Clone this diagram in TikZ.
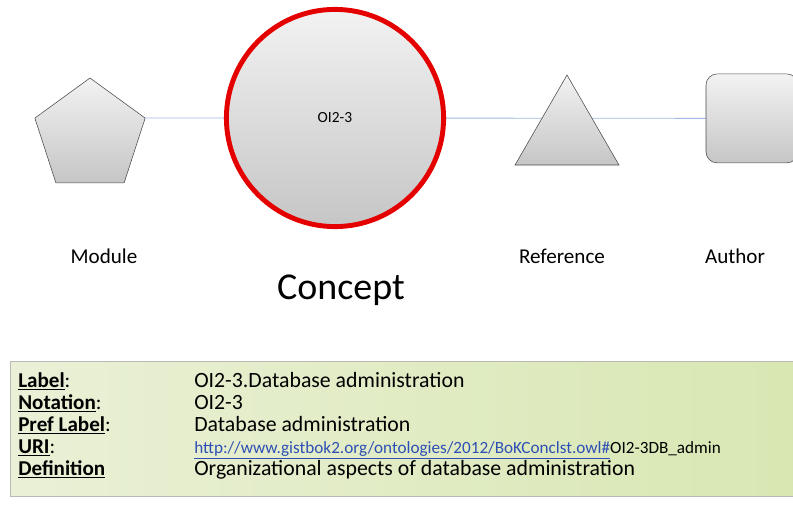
\documentclass[tikz,border=0pt]{standalone}
\usepackage{fontspec}
\setmainfont{Carlito}
\usetikzlibrary{shapes.geometric,backgrounds}

\definecolor{linkblue}{HTML}{2E4FB5}
\definecolor{edgeblue}{HTML}{9DB8E0}
\definecolor{boxleft}{HTML}{EAF0D6}
\definecolor{boxright}{HTML}{D8E7B2}

\begin{document}
\begin{tikzpicture}
\tikzstyle{entity} = [draw=gray!60!black, top color=gray!10, bottom color=gray!45, inner sep=0pt]
\tikzstyle{edge} = [draw=edgeblue, line width=0.6pt]
\tikzstyle{caption} = [font=\fontsize{15}{18}\selectfont]
\tikzstyle{key} = [anchor=base west, inner sep=0pt, font=\fontsize{15}{18}\selectfont]
\tikzstyle{value} = [anchor=base west, inner sep=0pt, font=\fontsize{15.5}{18}\selectfont]

\useasboundingbox (0,0) rectangle (19.825,12.6);
\clip (0,0) rectangle (19.825,12.6);

\node[entity, regular polygon, regular polygon sides=5, minimum size=2.9cm] (module) at (2.25,9.2) {};
\node[entity, circle, draw=red!90!black, line width=3.5pt, minimum size=5.43cm] (concept) at (8.375,9.65) {\fontsize{11}{13}\selectfont OI2-3};
\node[entity, regular polygon, regular polygon sides=3, minimum size=3cm] (reference) at (14.175,9.225) {};
\node[entity, rectangle, rounded corners=8pt, minimum width=2.3cm, minimum height=2.225cm] (author) at (18.8,9.64) {};

\begin{pgfonlayer}{background}
\draw[edge] (module.corner 5) -- (concept);
\draw[edge] (concept) -- (author);
\end{pgfonlayer}

\node[caption] (modulelabel) at (2.6,6.2) {Module};
\node[caption] (referencelabel) at (14.05,6.2) {Reference};
\node[caption] (authorlabel) at (18.375,6.2) {Author};
\node[font=\fontsize{27}{32}\selectfont] (conceptlabel) at (8.525,5.35) {Concept};

\node[draw=gray!55, left color=boxleft, right color=boxright, anchor=south west, minimum width=19.75cm, minimum height=3.375cm] (infobox) at (0.25,0.175) {};

\node[key] (labelkey) at (0.45,2.925) {\textbf{\underline{Label}}:};
\node[key] (notationkey) at (0.45,2.375) {\textbf{\underline{Notation}}:};
\node[key] (preflabelkey) at (0.45,1.825) {\textbf{\underline{Pref Label}}:};
\node[key] (urikey) at (0.45,1.275) {\textbf{\underline{URI}}:};
\node[key] (definitionkey) at (0.45,0.725) {\textbf{\underline{Definition}}};

\node[value] (labelvalue) at (4.85,2.925) {OI2-3.Database administration};
\node[value] (notationvalue) at (4.85,2.375) {OI2-3};
\node[value] (preflabelvalue) at (4.85,1.825) {Database administration};
\node[value, font=\fontsize{12.2}{14}\selectfont] (urivalue) at (4.85,1.275) {{\color{linkblue}\underline{http://www.gistbok2.org/ontologies/2012/BoKConclst.owl\#}}OI2-3DB\_admin};
\node[value] (definitionvalue) at (4.85,0.725) {Organizational aspects of database administration};
\end{tikzpicture}
\end{document}
